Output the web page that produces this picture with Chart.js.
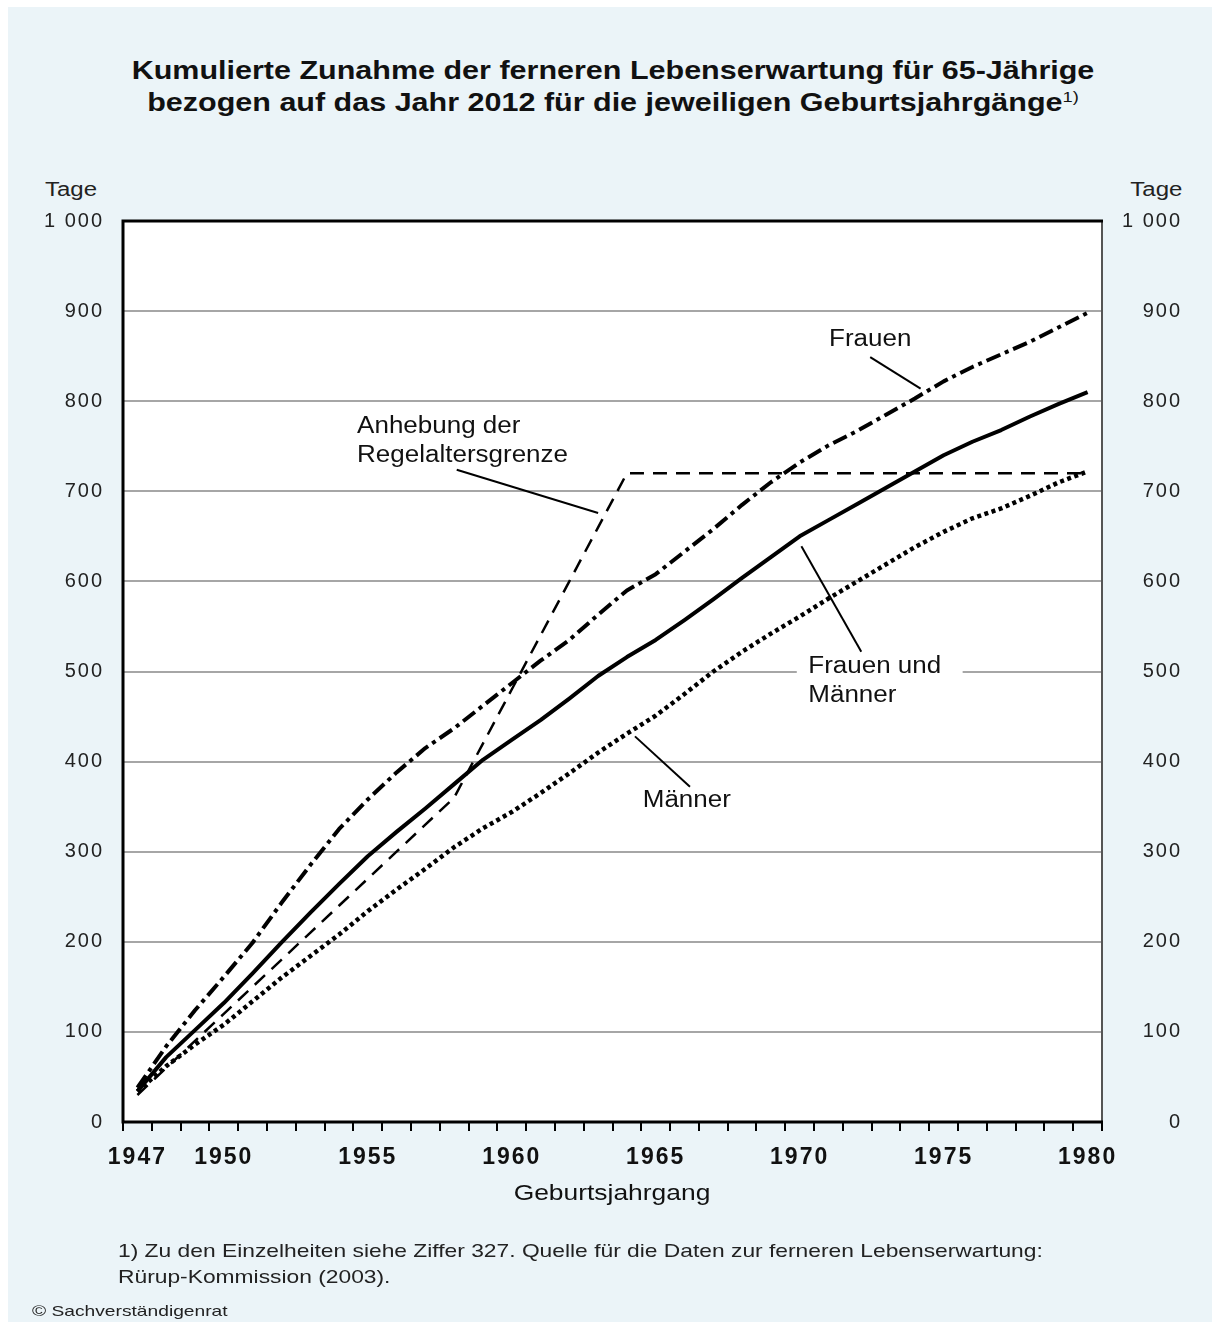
<!DOCTYPE html>
<html lang="de">
<head>
<meta charset="utf-8">
<title>Kumulierte Zunahme der ferneren Lebenserwartung</title>
<script src="https://cdn.jsdelivr.net/npm/chart.js@4.4.0/dist/chart.umd.min.js"></script>
<style>
  html, body { margin: 0; padding: 0; background: #fff; }
  body { width: 1212px; height: 1322px; position: relative; overflow: hidden;
         font-family: "Liberation Sans", Arial, sans-serif; color: #111; }
  #panel { position: absolute; left: 8px; top: 7px; right: 0; bottom: 0; background: #ebf4f8; }
  #chart { position: absolute; left: 0; top: 0; }
  .txt { position: absolute; white-space: nowrap; }
  /* die Vorlage ist etwas in die Breite gezogen */
  #title { left: 0; width: 1226px; top: 54px; text-align: center; font-weight: bold;
           font-size: 25px; line-height: 32px; transform: scaleX(1.22); transform-origin: 613px 0; }
  #title sup { font-size: 15px; font-weight: normal; vertical-align: 9px; line-height: 0; }
  .tage { top: 178px; font-size: 20px; color: #222; transform: scaleX(1.2); }
  #xtitle { left: 0; width: 1224px; text-align: center; top: 1180px; font-size: 22px;
            transform: scaleX(1.2); transform-origin: 612px 0; }
  #note { left: 118px; top: 1238px; font-size: 19px; line-height: 26px; color: #222;
          transform: scaleX(1.2); transform-origin: 0 0; }
  #copy { left: 32px; top: 1302px; font-size: 15px; color: #222; transform: scaleX(1.28); transform-origin: 0 0; }
</style>
</head>
<body>
<div id="panel"></div>
<div class="txt" id="title">Kumulierte Zunahme der ferneren Lebenserwartung für 65-Jährige<br>bezogen auf das Jahr 2012 für die jeweiligen Geburtsjahrgänge<sup>1)</sup></div>
<div class="txt tage" style="left:45px; transform-origin:0 0">Tage</div>
<div class="txt tage" style="right:30px; transform-origin:100% 0">Tage</div>
<canvas id="chart" width="1212" height="1322"></canvas>
<div class="txt" id="xtitle">Geburtsjahrgang</div>
<div class="txt" id="note">1) Zu den Einzelheiten siehe Ziffer 327. Quelle für die Daten zur ferneren Lebenserwartung:<br>Rürup-Kommission (2003).</div>
<div class="txt" id="copy">© Sachverständigenrat</div>

<script>
// Geburtsjahrgänge
const years = [1947, 1948, 1949, 1950, 1951, 1952, 1953, 1954, 1955, 1956, 1957, 1958,
  1959, 1960, 1961, 1962, 1963, 1964, 1965, 1966, 1967, 1968, 1969, 1970, 1971, 1972,
  1973, 1974, 1975, 1976, 1977, 1978, 1979, 1980];
const shownYears = [1947, 1950, 1955, 1960, 1965, 1970, 1975, 1980];
const yTicks = [0, 100, 200, 300, 400, 500, 600, 700, 800, 900, 1000];

// Tage
const frauen = [38, 84, 124, 161, 199, 243, 285, 325, 358, 388, 415, 437, 462, 487, 512, 535,
  563, 590, 608, 633, 658, 685, 710, 732, 751, 767, 785, 803, 822, 838, 852, 866, 882, 898];
const gesamt = [34, 72, 102, 132, 165, 199, 232, 264, 295, 322, 348, 375, 402, 424, 446, 470,
  495, 516, 535, 557, 580, 604, 627, 650, 668, 686, 704, 722, 740, 755, 768, 783, 797, 810];
const maenner = [34, 62, 86, 108, 134, 160, 184, 208, 234, 258, 281, 305, 326, 344, 365, 387,
  410, 431, 451, 475, 500, 522, 542, 561, 581, 600, 619, 638, 655, 670, 681, 695, 710, 722];
const regelalter = [30, 60, 90, 120, 150, 180, 210, 240, 270, 300, 330, 360, 420, 480, 540, 600,
  660, 720, 720, 720, 720, 720, 720, 720, 720, 720, 720, 720, 720, 720, 720, 720, 720, 720];

// Beschriftungen im Diagramm: Text in Datenkoordinaten (Jahr, Tage), Hinweislinie von -> nach
const notes = [
  { lines: ['Frauen'], x: 1972.45, y: 868, align: 'center', from: [1972.45, 849], to: [1974.2, 814] },
  { lines: ['Frauen und', 'Männer'], x: 1970.3, y: 505, align: 'left', from: [1972.14, 522], to: [1970.06, 639],
    box: [1969.9, 1975.66, 522, 490] },
  { lines: ['Männer'], x: 1966.08, y: 357, align: 'center', from: [1966.19, 372], to: [1964.28, 428] },
  { lines: ['Anhebung der', 'Regelaltersgrenze'], x: 1954.63, y: 772, align: 'left', from: [1958.09, 724], to: [1963.0, 676] }
];

const FONT = '"Liberation Sans", Arial, sans-serif';
const STRETCH = 1.13;

const deko = {
  id: 'deko',
  beforeDraw(chart) {
    const { ctx, chartArea: a } = chart;
    ctx.save();
    ctx.fillStyle = '#fff';
    ctx.fillRect(a.left, a.top, a.right - a.left, a.bottom - a.top);
    ctx.restore();
    // breitere Schrift wie in der Vorlage fuer die Achsenbeschriftung
    ctx.letterSpacing = '2px';
  },
  beforeDatasetsDraw(chart) {
    const { ctx, scales: { x, y } } = chart;
    ctx.letterSpacing = '0px';
    const px = v => x.getPixelForValue(v - years[0]);
    ctx.save();
    ctx.fillStyle = '#fff';
    notes.filter(n => n.box).forEach(n => {
      const [x0, x1, y0, y1] = n.box;
      ctx.fillRect(px(x0), y.getPixelForValue(y0), px(x1) - px(x0), y.getPixelForValue(y1) - y.getPixelForValue(y0));
    });
    ctx.restore();
  },
  afterDatasetsDraw(chart) {
    const { ctx, scales: { x, y } } = chart;
    const px = v => x.getPixelForValue(v - years[0]);
    ctx.save();
    ctx.strokeStyle = '#000';
    ctx.lineWidth = 2;
    ctx.fillStyle = '#111';
    ctx.font = '23px ' + FONT;
    ctx.textBaseline = 'middle';
    notes.forEach(n => {
      ctx.beginPath();
      ctx.moveTo(px(n.from[0]), y.getPixelForValue(n.from[1]));
      ctx.lineTo(px(n.to[0]), y.getPixelForValue(n.to[1]));
      ctx.stroke();
      ctx.textAlign = n.align;
      n.lines.forEach((t, i) => {
        ctx.save();
        ctx.translate(px(n.x), y.getPixelForValue(n.y) + i * 29);
        ctx.scale(STRETCH, 1);
        ctx.fillText(t, 0, 0);
        ctx.restore();
      });
    });
    ctx.restore();
  },
  afterDraw(chart) {
    const { ctx, chartArea: a } = chart;
    ctx.save();
    ctx.strokeStyle = '#555';
    ctx.lineWidth = 2;
    ctx.beginPath();
    ctx.moveTo(a.right, a.top);
    ctx.lineTo(a.right, a.bottom);
    ctx.stroke();
    ctx.strokeStyle = '#000';
    ctx.lineWidth = 3;
    ctx.beginPath();
    ctx.moveTo(a.right + 1, a.top);
    ctx.lineTo(a.left, a.top);
    ctx.lineTo(a.left, a.bottom);
    ctx.lineTo(a.right + 1, a.bottom);
    ctx.stroke();
    ctx.restore();
  }
};

const line = (data, dash, width) => ({
  data: data,
  borderColor: '#000',
  borderWidth: width,
  borderDash: dash,
  borderCapStyle: 'butt',
  borderJoinStyle: 'round',
  pointRadius: 0,
  tension: 0,
  fill: false
});

const yTickFont = { family: FONT, size: 20 };

new Chart(document.getElementById('chart'), {
  type: 'line',
  data: {
    labels: years.map(String),
    datasets: [
      Object.assign(line(gesamt, [], 4), { label: 'Frauen und Männer' }),
      Object.assign(line(frauen, [15, 5, 4, 5], 4), { label: 'Frauen' }),
      Object.assign(line(maenner, [4, 3.5], 4.5), { label: 'Männer' }),
      Object.assign(line(regelalter, [14, 9], 2.5), { label: 'Anhebung der Regelaltersgrenze' })
    ]
  },
  options: {
    responsive: false,
    animation: false,
    layout: { padding: { top: 221, right: 30, left: 0, bottom: 0 } },
    plugins: { legend: { display: false }, tooltip: { enabled: false } },
    scales: {
      x: {
        type: 'category',
        offset: true,
        border: { display: false },
        grid: { offset: true, drawOnChartArea: false, drawTicks: true, tickLength: 9, color: '#000', lineWidth: 2 },
        ticks: {
          autoSkip: false, maxRotation: 0, padding: 13, color: '#111',
          font: { family: FONT, size: 23, weight: 'bold' },
          callback: (v, i) => shownYears.includes(years[i]) ? String(years[i]) : ''
        },
        afterFit: s => { s.height = 200; }
      },
      y: {
        position: 'left',
        min: 0, max: 1000,
        border: { display: false },
        grid: { color: '#a6a6a6', lineWidth: 2, drawTicks: false },
        afterBuildTicks: s => { s.ticks = yTicks.map(v => ({ value: v })); },
        ticks: { padding: 19, color: '#222', font: yTickFont, callback: v => v === 1000 ? '1 000' : String(v) },
        afterFit: s => { s.width = 123; }
      },
      y2: {
        position: 'right',
        min: 0, max: 1000,
        border: { display: false },
        grid: { drawOnChartArea: false, drawTicks: false },
        afterBuildTicks: s => { s.ticks = yTicks.map(v => ({ value: v })); },
        ticks: { padding: 21, color: '#222', font: yTickFont, crossAlign: 'far', callback: v => v === 1000 ? '1 000' : String(v) },
        afterFit: s => { s.width = 80; }
      }
    }
  },
  plugins: [deko]
});
</script>
</body>
</html>
